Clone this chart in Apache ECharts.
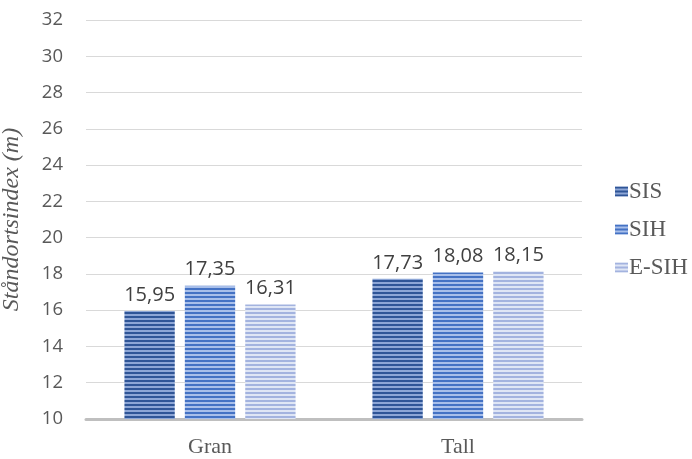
<!DOCTYPE html>
<html>
<head>
<meta charset="utf-8">
<script src="https://cdn.jsdelivr.net/npm/echarts@6/dist/echarts.min.js"></script>
<style>
html,body{margin:0;padding:0;background:#fff;}
#chart{width:692px;height:459px;}
</style>
</head>
<body>
<div id="chart"></div>
<script>
// Site index by species and method
const categories = ['Gran', 'Tall'];
const seriesNames = ['SIS', 'SIH', 'E-SIH'];
const sisValues = [15.95, 17.73];
const sihValues = [17.35, 18.08];
const esihValues = [16.31, 18.15];
const yTicks = [10, 12, 14, 16, 18, 20, 22, 24, 26, 28, 30, 32];

// Horizontal stripe fill for a bar
function stripes(dark, light) {
  const c = document.createElement('canvas');
  c.width = 8; c.height = 4;
  const g = c.getContext('2d');
  g.fillStyle = light; g.fillRect(0, 0, 8, 4);
  g.fillStyle = dark; g.fillRect(0, 0, 8, 2);
  return { image: c, repeat: 'repeat' };
}

const fills = [
  stripes('#2f5597', '#8da6d6'),
  stripes('#4472c4', '#a8bfea'),
  stripes('#a3b3df', '#dfe6f5')
];
const values = [sisValues, sihValues, esihValues];

const chart = echarts.init(document.getElementById('chart'), null, { renderer: 'canvas' });
chart.setOption({
  animation: false,
  grid: { left: 86, right: 110, top: 20, bottom: 40, containLabel: false, outerBoundsMode: 'none' },
  legend: {
    orient: 'vertical',
    left: 610,
    top: 175,
    itemWidth: 13,
    itemHeight: 10,
    itemGap: 15,
    icon: 'rect',
    textStyle: { fontFamily: 'Liberation Serif', fontSize: 23, color: '#595959', padding: [0, 0, 0, -4] },
    data: seriesNames
  },
  xAxis: {
    type: 'category',
    data: categories,
    axisLine: { lineStyle: { color: '#bfbfbf', width: 3 } },
    axisTick: { show: false },
    axisLabel: { fontFamily: 'Liberation Serif', fontSize: 22, color: '#595959', margin: 17 }
  },
  yAxis: {
    type: 'value',
    min: yTicks[0],
    max: yTicks[yTicks.length - 1],
    interval: 2,
    name: 'Ståndortsindex (m)',
    nameLocation: 'middle',
    nameGap: 62,
    nameTextStyle: { fontFamily: 'Liberation Serif', fontStyle: 'italic', fontSize: 24, color: '#595959' },
    axisLine: { show: false },
    axisTick: { show: false },
    splitLine: { lineStyle: { color: '#d9d9d9', width: 1 } },
    axisLabel: { fontFamily: 'Open Sans', fontSize: 18.5, color: '#595959', margin: 23 }
  },
  series: seriesNames.map((n, i) => ({
    name: n,
    type: 'bar',
    data: values[i],
    barGap: '20%',
    barCategoryGap: '31%',
    itemStyle: { color: fills[i] },
    label: {
      show: true,
      position: 'top',
      distance: 6,
      fontFamily: 'Open Sans',
      fontSize: 20,
      color: '#404040',
      formatter: p => p.value.toFixed(2).replace('.', ',')
    }
  }))
});
</script>
</body>
</html>
